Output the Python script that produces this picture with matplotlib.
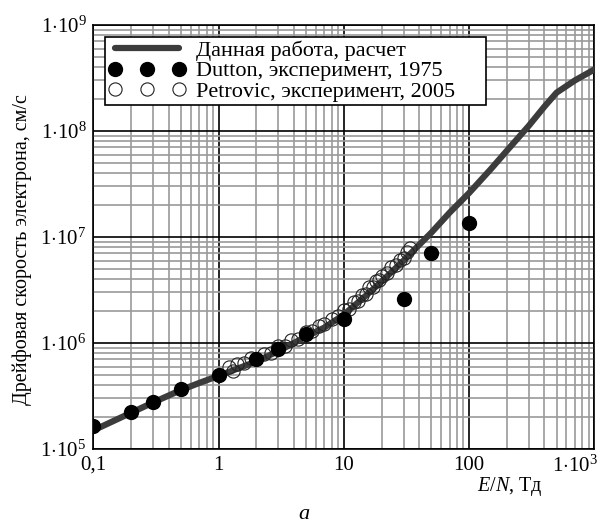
import matplotlib
matplotlib.use('Agg')
import matplotlib.pyplot as plt
import matplotlib.transforms as mtransforms
from matplotlib.ticker import LogLocator, FixedLocator, FixedFormatter, NullFormatter

plt.rcParams['font.family'] = ['Liberation Serif', 'DejaVu Serif']
plt.rcParams['mathtext.fontset'] = 'custom'
plt.rcParams['mathtext.rm'] = 'Liberation Serif'
plt.rcParams['mathtext.it'] = 'Liberation Serif:italic'

# calculated curve
calc_x = [0.1, 0.2, 0.3, 0.5, 0.7, 1, 2, 3, 5, 7, 10, 15, 20, 30, 50, 70,
          100, 150, 200, 300, 400, 500, 700, 1000]
calc_y = [1.5e5, 2.2e5, 2.75e5, 3.6e5, 4.2e5, 4.9e5, 6.7e5, 8.4e5, 1.15e6,
          1.4e6, 1.85e6, 2.8e6, 3.8e6, 6.0e6, 1.1e7, 1.7e7, 2.6e7, 4.4e7,
          6.5e7, 1.12e8, 1.7e8, 2.3e8, 3.0e8, 3.8e8]

# Dutton 1975
dut_x = [0.1, 0.2, 0.3, 0.5, 1, 2, 3, 5, 10, 30, 50, 100]
dut_y = [1.65e5, 2.25e5, 2.8e5, 3.7e5, 5.0e5, 7.0e5, 8.8e5, 1.22e6, 1.68e6,
         2.6e6, 7.0e6, 1.35e7]

# Petrovic 2005
pet_x = [1.2, 1.3, 1.4, 1.6, 1.8, 2.0, 2.3, 2.6, 3.0, 3.4, 3.8, 4.3, 5.0, 5.6,
         6.3, 7.0, 8.0, 9.0, 10, 11, 12, 13, 14, 15, 16, 17, 18, 19, 20, 22,
         24, 26, 28, 30, 32, 34]
pet_y = [5.9e5, 5.5e5, 6.3e5, 6.5e5, 7.2e5, 7.0e5, 7.9e5, 8.1e5, 9.3e5, 9.4e5,
         1.07e6, 1.08e6, 1.26e6, 1.3e6, 1.46e6, 1.5e6, 1.7e6, 1.78e6, 2.05e6,
         2.1e6, 2.45e6, 2.5e6, 2.85e6, 2.9e6, 3.35e6, 3.4e6, 3.85e6, 3.9e6,
         4.3e6, 4.6e6, 5.2e6, 5.4e6, 6.1e6, 6.4e6, 7.2e6, 7.8e6]

x_ticks = [0.1, 1, 10, 100, 1000]
x_labels = ['0,1', '1', '10', '100', r'$1{\cdot}10^{3}$']
y_ticks = [1e5, 1e6, 1e7, 1e8, 1e9]
y_labels = [r'$1{\cdot}10^{5}$', r'$1{\cdot}10^{6}$', r'$1{\cdot}10^{7}$',
            r'$1{\cdot}10^{8}$', r'$1{\cdot}10^{9}$']

fig = plt.figure(figsize=(6.07, 5.32), dpi=100)
ax = fig.add_axes([0.154, 0.156, 0.825, 0.797])

ax.set_xscale('log')
ax.set_yscale('log')
ax.set_xlim(0.1, 1000)
ax.set_ylim(1e5, 1e9)

ax.plot(calc_x, calc_y, color='#3c3c3c', lw=4.5, solid_capstyle='round',
        label='Данная работа, расчет', zorder=3)
ax.plot(pet_x, pet_y, 'o', ms=9.5, mfc='none', mec='#222222', mew=0.8,
        label='Petrovic, эксперимент, 2005', zorder=4)
ax.plot(dut_x, dut_y, 'o', ms=10, color='black',
        label='Dutton, эксперимент, 1975', zorder=5)

ax.xaxis.set_major_locator(FixedLocator(x_ticks))
ax.xaxis.set_major_formatter(FixedFormatter(x_labels))
ax.yaxis.set_major_locator(FixedLocator(y_ticks))
ax.yaxis.set_major_formatter(FixedFormatter(y_labels))
ax.xaxis.set_minor_locator(LogLocator(base=10, subs=range(2, 10)))
ax.yaxis.set_minor_locator(LogLocator(base=10, subs=range(2, 10)))
ax.xaxis.set_minor_formatter(NullFormatter())
ax.yaxis.set_minor_formatter(NullFormatter())

ax.grid(which='minor', color='#9a9a9a', lw=1.2)
ax.grid(which='major', color='black', lw=1.2)
ax.set_axisbelow(True)
ax.tick_params(which='both', length=0, labelsize=15, pad=5)
for s in ax.spines.values():
    s.set_color('black')
    s.set_linewidth(1.2)

# last x label sits flush with the right edge
fig.canvas.draw()
last = ax.get_xticklabels()[-1]
last.set_ha('right')
last.set_transform(last.get_transform() +
                   mtransforms.ScaledTranslation(4 / 100, 0, fig.dpi_scale_trans))

h, l = ax.get_legend_handles_labels()
leg = ax.legend([h[0], h[2], h[1]], [l[0], l[2], l[1]], loc='upper left',
                bbox_to_anchor=(0.023, 0.80, 0.76, 0.172), mode='expand',
                numpoints=3, fontsize=16,
                frameon=True, fancybox=False, framealpha=1, edgecolor='black',
                handlelength=3.5, handletextpad=0.45, borderpad=0.15,
                labelspacing=0.0, borderaxespad=0)
leg.get_frame().set_linewidth(1.2)

fig.text(0.036, 0.53, 'Дрейфовая скорость электрона, см/с', rotation=90,
         ha='center', va='center', fontsize=14.5)
fig.text(0.84, 0.086, r'$E/N$, Тд', ha='center', va='center', fontsize=14.5)
fig.text(0.5, 0.032, 'a', style='italic', ha='center', va='center', fontsize=16)

fig.savefig('out.png', dpi=100)
